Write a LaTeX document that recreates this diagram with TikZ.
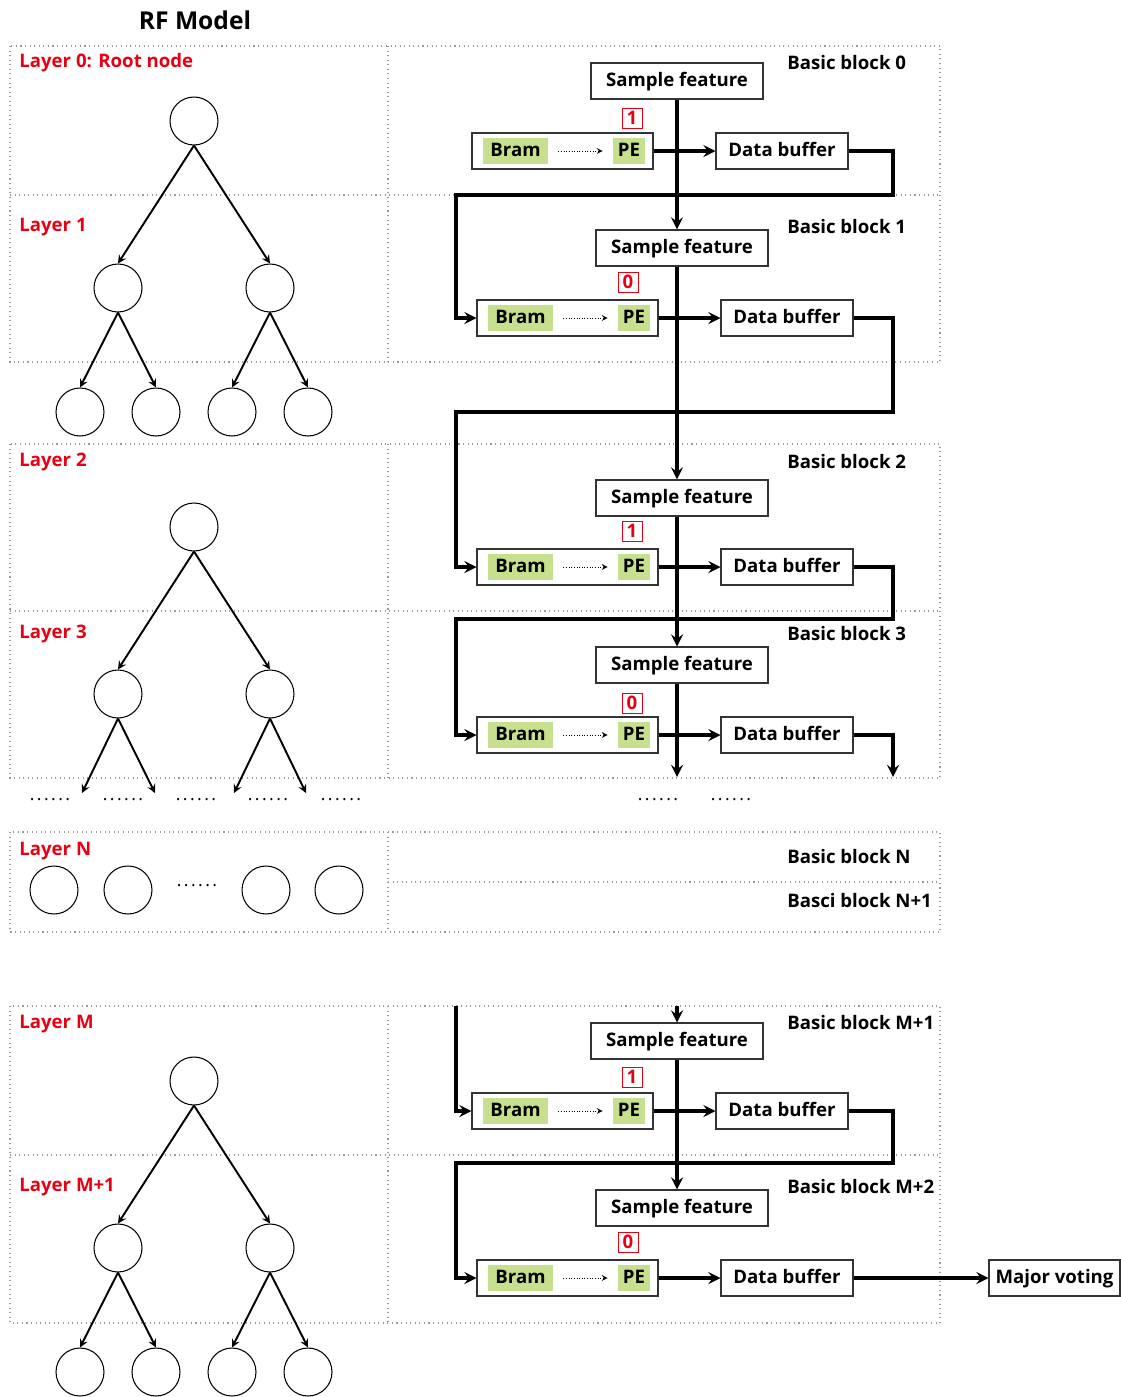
\documentclass[tikz,border=0pt]{standalone}
\usepackage{fontspec}
\setmainfont{Open Sans}
\newfontfamily\dotfont[LetterSpace=14]{Open Sans}
\newcommand{\rffont}{\fontsize{10.6}{12.7}\selectfont\bfseries}
\usepackage{tikz}
\usetikzlibrary{calc}
\definecolor{rfred}{RGB}{230,0,18}
\definecolor{bramgreen}{RGB}{198,224,142}
\tikzstyle{region}=[draw=gray!80, dotted, line width=0.6pt]
\tikzstyle{tnode}=[draw, circle, minimum size=0.96cm, inner sep=0pt, line width=0.6pt]
\tikzstyle{branch}=[->, >=stealth, line width=1.1pt]
\tikzstyle{box}=[draw=black!80, line width=0.6pt, minimum height=0.72cm, inner sep=0pt, text height=0.72em, text depth=0.06em, font=\rffont]
\tikzstyle{flow}=[->, >=stealth, line width=2pt]
\tikzstyle{hint}=[->, >=stealth, densely dotted, line width=0.5pt]
\tikzstyle{bitbox}=[draw=rfred, text=rfred, font=\rffont, minimum size=0.4cm, inner sep=0pt, line width=0.5pt]
\tikzstyle{cell}=[fill=bramgreen, font=\rffont, minimum height=0.52cm, inner sep=0pt, text height=0.72em, text depth=0.06em]
\tikzstyle{layerlabel}=[text=rfred, font=\rffont, anchor=west, inner sep=0pt]
\tikzstyle{blocklabel}=[font=\rffont, anchor=west, inner sep=0pt]
\tikzstyle{dots}=[font=\dotfont]

\begin{document}
\begin{tikzpicture}[x=0.02cm, y=-0.02cm]
\useasboundingbox (0,0) rectangle (1121,1397);

\node[font=\fontsize{14}{17}\selectfont\bfseries] (title) at (195,20) {RF Model};

% dotted regions
\draw[region] (10,46) rectangle (940,362);
\draw[region] (388,46) -- (388,362);
\draw[region] (10,195) -- (940,195);
\draw[region] (10,444) rectangle (940,778);
\draw[region] (388,444) -- (388,778);
\draw[region] (10,611) -- (940,611);
\draw[region] (10,832) rectangle (940,932);
\draw[region] (388,832) -- (388,932);
\draw[region] (388,882) -- (940,882);
\draw[region] (10,1006) rectangle (940,1323);
\draw[region] (388,1006) -- (388,1323);
\draw[region] (10,1155) -- (940,1155);

% layer names
\node[layerlabel] (l0) at (19,63) {Layer 0: Root node};
\node[layerlabel] (l1) at (19,227) {Layer 1};
\node[layerlabel] (l2) at (19,462) {Layer 2};
\node[layerlabel] (l3) at (19,634) {Layer 3};
\node[layerlabel] (ln) at (19,851) {Layer N};
\node[layerlabel] (lm) at (19,1024) {Layer M};
\node[layerlabel] (lm1) at (19,1187) {Layer M+1};

% block names
\node[blocklabel] (k0) at (787,63) {Basic block 0};
\node[blocklabel] (k1) at (787,227) {Basic block 1};
\node[blocklabel] (k2) at (787,462) {Basic block 2};
\node[blocklabel] (k3) at (787,634) {Basic block 3};
\node[blocklabel] (kn) at (787,857) {Basic block N};
\node[blocklabel] (kn1) at (787,901) {Basci block N+1};
\node[blocklabel] (km1) at (787,1023) {Basic block M+1};
\node[blocklabel] (km2) at (787,1187) {Basic block M+2};

% tree, layers 0-1
\node[tnode] (r0) at (194,121) {};
\node[tnode] (a1) at (118,288) {};
\node[tnode] (a2) at (270,288) {};
\node[tnode] (b1) at (80,412) {};
\node[tnode] (b2) at (156,412) {};
\node[tnode] (b3) at (232,412) {};
\node[tnode] (b4) at (308,412) {};
\draw[branch] (r0.south) -- (a1.north);
\draw[branch] (r0.south) -- (a2.north);
\draw[branch] (a1.south) -- (b1.north);
\draw[branch] (a1.south) -- (b2.north);
\draw[branch] (a2.south) -- (b3.north);
\draw[branch] (a2.south) -- (b4.north);

% tree, layers 2-3
\node[tnode] (r2) at (194,527) {};
\node[tnode] (c1) at (118,694) {};
\node[tnode] (c2) at (270,694) {};
\coordinate (e1) at (82,793);
\coordinate (e2) at (155,793);
\coordinate (e3) at (234,793);
\coordinate (e4) at (306,793);
\draw[branch] (r2.south) -- (c1.north);
\draw[branch] (r2.south) -- (c2.north);
\draw[branch] (c1.south) -- (e1);
\draw[branch] (c1.south) -- (e2);
\draw[branch] (c2.south) -- (e3);
\draw[branch] (c2.south) -- (e4);
\node[dots] (d1) at (50,800) {......};
\node[dots] (d2) at (123,800) {......};
\node[dots] (d3) at (196,800) {......};
\node[dots] (d4) at (268,800) {......};
\node[dots] (d5) at (341,800) {......};
\node[dots] (d6) at (658,800) {......};
\node[dots] (d7) at (731,800) {......};

% layer N
\node[tnode] (n1) at (54,890) {};
\node[tnode] (n2) at (128,890) {};
\node[dots] (d8) at (197,886) {......};
\node[tnode] (n3) at (266,890) {};
\node[tnode] (n4) at (339,890) {};

% tree, layers M and M+1
\node[tnode] (rm) at (194,1081) {};
\node[tnode] (m1) at (118,1248) {};
\node[tnode] (m2) at (270,1248) {};
\node[tnode] (g1) at (80,1372) {};
\node[tnode] (g2) at (156,1372) {};
\node[tnode] (g3) at (232,1372) {};
\node[tnode] (g4) at (308,1372) {};
\draw[branch] (rm.south) -- (m1.north);
\draw[branch] (rm.south) -- (m2.north);
\draw[branch] (m1.south) -- (g1.north);
\draw[branch] (m1.south) -- (g2.north);
\draw[branch] (m2.south) -- (g3.north);
\draw[branch] (m2.south) -- (g4.north);

% basic blocks: name/shift/feature y/row y/bit/bit x/bit y
\foreach \n/\s/\ys/\yr/\b/\bx/\by in {0/0/81/151/1/632/118, 1/5/248/318/0/628/282,
    2/5/498/567/1/632/531, 3/5/665/735/0/632/703,
    m1/0/1041/1111/1/632/1077, m2/5/1208/1278/0/628/1242}{
  \node[box, minimum width=3.44cm] (sf\n) at (677+\s,\ys) {Sample feature};
  \node[bitbox] (bit\n) at (\bx,\by) {\b};
  \node[box, minimum width=3.62cm] (row\n) at (562.5+\s,\yr) {};
  \node[cell, minimum width=1.3cm] (bram\n) at (515.5+\s,\yr) {Bram};
  \node[cell, minimum width=0.64cm] (pe\n) at (629+\s,\yr) {PE};
  \draw[hint] ([xshift=0.2cm]bram\n.east) -- ([xshift=-0.2cm]pe\n.west);
  \node[box, minimum width=2.64cm] (db\n) at (782+\s,\yr) {Data buffer};
  \draw[flow] (row\n.east) -- (db\n.west);
}
\node[box, minimum width=2.62cm] (vote) at (1054.5,1278) {Major voting};

% data paths
\coordinate (lx) at (456,0);
\coordinate (ret0) at (893,195);
\coordinate (ret1) at (893,412);
\coordinate (ret2) at (893,619);
\coordinate (ret3) at (893,777);
\coordinate (retm) at (893,1163);
\coordinate (mtop) at (677,1006);
\coordinate (ltop) at (456,1006);
\draw[flow] (sf0.south) -- (sf0.south |- sf1.north);
\draw[flow] (sf1.south -| sf0.south) -- (sf0.south |- sf2.north);
\draw[flow] (sf2.south -| sf0.south) -- (sf0.south |- sf3.north);
\draw[flow] (sf3.south -| sf0.south) -- (sf0.south |- ret3);
\draw[flow] (db0.east) -| (ret0) -- (ret0 -| lx) |- (row1.west);
\draw[flow] (db1.east) -| (ret1) -- (ret1 -| lx) |- (row2.west);
\draw[flow] (db2.east) -| (ret2) -- (ret2 -| lx) |- (row3.west);
\draw[flow] (db3.east) -| (ret3);
\draw[flow] (mtop) -- (sfm1.north);
\draw[flow] (ltop) |- (rowm1.west);
\draw[flow] (sfm1.south) -- (sfm1.south |- sfm2.north);
\draw[flow] (dbm1.east) -| (retm) -- (retm -| lx) |- (rowm2.west);
\draw[flow] (dbm2.east) -- (vote.west);
\end{tikzpicture}
\end{document}
